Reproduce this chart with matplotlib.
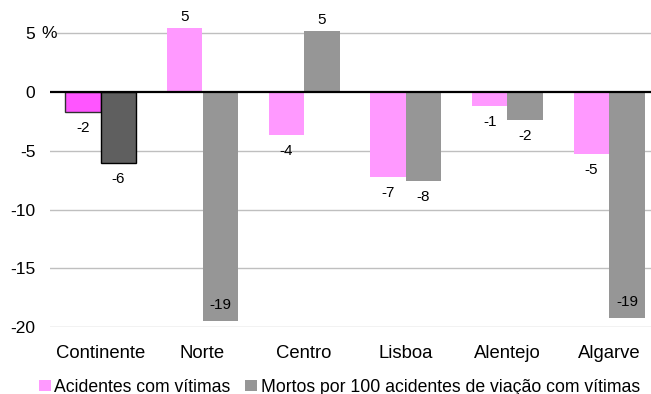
import matplotlib
matplotlib.use("Agg")
import matplotlib.pyplot as plt
import matplotlib.transforms as mtransforms
from matplotlib.patches import Patch
import numpy as np

plt.rcParams['font.family'] = ['Liberation Sans', 'DejaVu Sans']

regions = ["Continente", "Norte", "Centro", "Lisboa", "Alentejo", "Algarve"]
acidentes = [-1.7, 5.45, -3.7, -7.2, -1.17, -5.25]
mortos = [-6.05, -19.45, 5.2, -7.6, -2.36, -19.2]
series_names = ["Acidentes com vítimas", "Mortos por 100 acidentes de viação com vítimas"]
y_ticks = [-20, -15, -10, -5, 0, 5]
y_tick_labels = ["-20", "-15", "-10", "-5", "0", "5"]

pink, pink_hi = "#FF99FF", "#FF55FF"
grey, grey_hi = "#969696", "#5F5F5F"

W, H = 651, 394
fig = plt.figure(figsize=(W / 100, H / 100), dpi=100)
ax = fig.add_axes([50 / W, 67 / H, 610 / W, (327 - 21.5) / H])

x = np.arange(len(regions))
bw = 0.35

# first column (Continente) is highlighted with stronger colours and outlines
col_a = [pink_hi] + [pink] * (len(regions) - 1)
col_m = [grey_hi] + [grey] * (len(regions) - 1)
edge_a = ["#303030"] + ["none"] * (len(regions) - 1)
edge_m = ["#000000"] + ["none"] * (len(regions) - 1)

bars_a = ax.bar(x - bw / 2, acidentes, bw, color=col_a, edgecolor=edge_a,
                linewidth=1.0, zorder=2)
bars_m = ax.bar(x + bw / 2, mortos, bw, color=col_m, edgecolor=edge_m,
                linewidth=1.0, zorder=2)

ax.set_xlim(-0.5, len(regions) - 0.5)
ax.set_ylim(-20, 6)

for s in ax.spines.values():
    s.set_visible(False)

for yv in y_ticks:
    if yv != 0:
        ax.axhline(yv, color="#BFBFBF", linewidth=1.0, zorder=1)
ax.axhline(0, color="#000000", linewidth=1.6, zorder=3)

ax.set_yticks(y_ticks)
ax.set_yticklabels(y_tick_labels)
ax.tick_params(axis="y", length=0, pad=10.5, labelsize=12.5, colors="#000000")
ax.set_xticks(x)
ax.set_xticklabels(regions)
ax.tick_params(axis="x", length=0, pad=13, labelsize=13.3, colors="#000000")

# unit mark next to the top tick label
trans = mtransforms.blended_transform_factory(fig.transFigure, ax.transData)
ax.text(41 / W, 5, "%", transform=trans, ha="left", va="center",
        fontsize=12.5, clip_on=False,
        bbox=dict(facecolor="white", edgecolor="none", pad=0.5))


def label_bars(bars, values):
    for b, v in zip(bars, values):
        cx = b.get_x() + b.get_width() / 2
        txt = f"{v:.0f}"
        if v >= 0:
            ax.annotate(txt, (cx, v), xytext=(0, 8), textcoords="offset points",
                        ha="center", va="center", fontsize=11, clip_on=False)
        elif v < -15:
            ax.annotate(txt, (cx, v), xytext=(0, 11), textcoords="offset points",
                        ha="center", va="center", fontsize=11, zorder=4)
        else:
            ax.annotate(txt, (cx, v), xytext=(0, -11.5), textcoords="offset points",
                        ha="center", va="center", fontsize=11)


label_bars(bars_a, acidentes)
label_bars(bars_m, mortos)

handles = [Patch(facecolor=pink, edgecolor="none"),
           Patch(facecolor=grey, edgecolor="none")]
fig.legend(handles, series_names, loc="center left",
           bbox_to_anchor=(39 / W, 1 - 387 / H), ncol=2, frameon=False,
           fontsize=12.7, handlelength=0.66, handleheight=0.62,
           handletextpad=0.2, columnspacing=0.85, borderpad=0, borderaxespad=0)

fig.savefig("out.png", dpi=100)
